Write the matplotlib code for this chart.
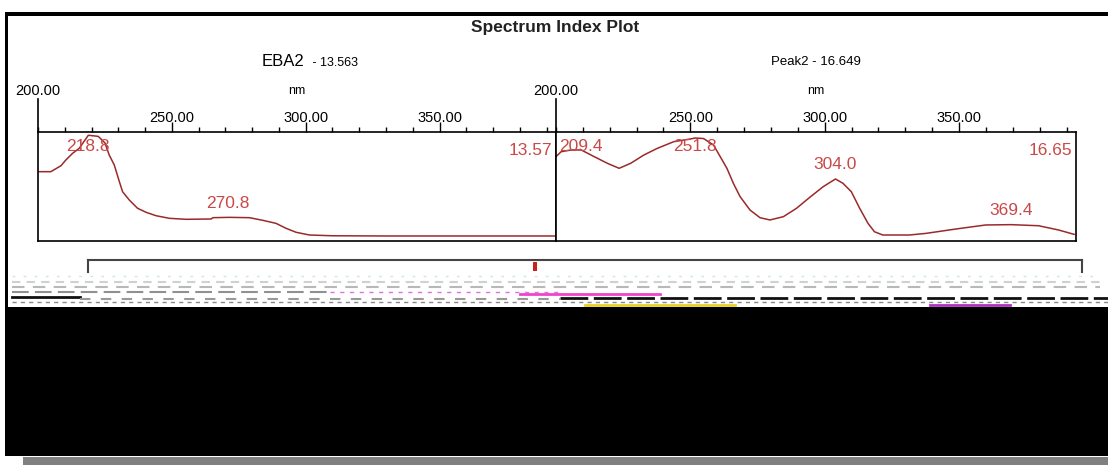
import matplotlib
matplotlib.use("Agg")
from matplotlib import pyplot as plt
from matplotlib.patches import Rectangle
from matplotlib.lines import Line2D
from matplotlib.ticker import MultipleLocator, FixedLocator

plt.rcParams['font.family'] = ['Liberation Sans', 'DejaVu Sans']

# spectrum 1 (EBA2, rt 13.563)
wl1 = [200, 204.8, 208.6, 210.4, 212.9, 215.4, 218.8, 222.5, 225.0, 226.6, 228.5,
       230.4, 231.6, 234.1, 237.2, 240.4, 244.1, 249.1, 255.3, 264.7, 265.3, 271.5,
       279.0, 283.9, 288.9, 292.7, 296.4, 301.4, 310, 330, 360, 393.5]
ab1 = [0.636, 0.636, 0.691, 0.743, 0.804, 0.850, 0.970, 0.960, 0.900, 0.789, 0.697,
       0.544, 0.452, 0.376, 0.300, 0.263, 0.232, 0.208, 0.199, 0.202, 0.214, 0.217,
       0.214, 0.190, 0.162, 0.116, 0.080, 0.055, 0.048, 0.046, 0.046, 0.046]
peaks1 = [218.8, 270.8]
rt1 = "13.57"
name1 = "EBA2"
sub1 = " - 13.563"

# spectrum 2 (Peak2, rt 16.649)
wl2 = [200, 201.9, 205.6, 209.4, 214.2, 219.1, 223.5, 227.8, 232.7, 237.7, 243.8,
       250.0, 251.8, 254.9, 258.6, 261.1, 263.6, 266.0, 268.5, 272.2, 275.9, 279.6,
       284.6, 289.5, 294.4, 299.4, 304.0, 306.8, 309.9, 313.0, 316.1, 318.5, 321.6,
       331.5, 337.7, 348.8, 359.9, 369.4, 379.6, 387.0, 392.8]
ab2 = [0.774, 0.819, 0.835, 0.835, 0.774, 0.713, 0.667, 0.713, 0.789, 0.850, 0.911,
       0.936, 0.945, 0.940, 0.881, 0.774, 0.667, 0.529, 0.407, 0.284, 0.214, 0.193,
       0.223, 0.300, 0.400, 0.498, 0.569, 0.529, 0.452, 0.300, 0.162, 0.085, 0.055,
       0.055, 0.070, 0.110, 0.147, 0.150, 0.140, 0.101, 0.061]
peaks2 = [209.4, 251.8, 304.0, 369.4]
rt2 = "16.65"
name2 = "Peak2 - 16.649"

W, H = 1108, 465
CURVE = "#9a2a2a"
LABEL = "#c94848"


def fx(px):
    return px / W


def fy(py):
    return 1 - py / H


def prect(fig, x0, y0, x1, y1, color):
    fig.patches.append(Rectangle((fx(x0), fy(y1)), fx(x1) - fx(x0), fy(y0) - fy(y1),
                                 transform=fig.transFigure, color=color, lw=0))


def pline(fig, x0, x1, y, color, lw=1.0, ls='-'):
    fig.lines.append(Line2D([fx(x0), fx(x1)], [fy(y), fy(y)], transform=fig.transFigure,
                            color=color, lw=lw, ls=ls))


def draw_panel(fig, left, right, wl, ab, peaks, rt):
    top, bottom = 132, 241
    hgt = bottom - top
    ax = fig.add_axes([fx(left), fy(bottom), fx(right) - fx(left), hgt / H])
    ax.plot(wl, ab, color=CURVE, lw=1.1)
    ax.set_xlim(200, 393.5)
    ax.set_ylim(0, 1)
    ax.set_yticks([])
    for s in ax.spines.values():
        s.set_linewidth(1.2)
    ax.xaxis.set_ticks_position('top')
    ax.xaxis.set_major_locator(FixedLocator([250, 300, 350]))
    ax.xaxis.set_minor_locator(MultipleLocator(10))
    ax.xaxis.set_major_formatter(lambda v, p: f"{v:.2f}")
    ax.tick_params(axis='x', which='major', direction='out', length=7, width=1,
                   pad=-2, labelsize=10.5)
    ax.tick_params(axis='x', which='minor', direction='out', length=3.6, width=1)
    # long tick at the start of the scale
    ax.plot([0, 0], [1, 1 + 33 / hgt], transform=ax.transAxes, color='black',
            lw=1.2, clip_on=False)
    ax.text(0, 1 + 41 / hgt, "200.00", transform=ax.transAxes, ha='center',
            va='center', fontsize=10.5)
    ax.text(0.5, 1 + 41 / hgt, "nm", transform=ax.transAxes, ha='center',
            va='center', fontsize=9)
    for p in peaks:
        i = min(range(len(wl)), key=lambda k: abs(wl[k] - p))
        ax.text(p, min(ab[i] + 0.13, 0.87), f"{p:.1f}", ha='center', va='center',
                fontsize=12.5, color=LABEL)
    ax.text(0.993, 0.83, rt, transform=ax.transAxes, ha='right', va='center',
            fontsize=12.5, color=LABEL)
    return ax


fig = plt.figure(figsize=(W / 100, H / 100), dpi=100)
fig.patch.set_facecolor('white')

# outer frame
prect(fig, 5, 12, W, 16, 'black')
prect(fig, 5, 12, 8, 456, 'black')

fig.text(fx(555), fy(27.5), "Spectrum Index Plot", ha='center', va='center',
         fontsize=12.5, fontweight='bold', color='#222222')
fig.text(fx(262), fy(66), name1, ha='left', va='baseline', fontsize=12)
fig.text(fx(309), fy(66), sub1, ha='left', va='baseline', fontsize=9)
fig.text(fx(816), fy(65), name2, ha='center', va='baseline', fontsize=9.5)

draw_panel(fig, 38, 556, wl1, ab1, peaks1, rt1)
draw_panel(fig, 556, 1076, wl2, ab2, peaks2, rt2)

# range bracket with marker
pline(fig, 88, 1082, 260, '#444444', lw=1.5)
fig.lines.append(Line2D([fx(88), fx(88)], [fy(260), fy(272)], transform=fig.transFigure,
                        color='#444444', lw=1.5))
fig.lines.append(Line2D([fx(1082), fx(1082)], [fy(260), fy(272)], transform=fig.transFigure,
                        color='#444444', lw=1.5))
fig.patches.append(Rectangle((fx(533), fy(271)), fx(4), 9 / H, transform=fig.transFigure,
                             color='#cc2020', lw=0))

# garbled strip below the bracket
pline(fig, 12, 1100, 276, '#c8e8f0', lw=1, ls=(0, (2, 6)))
pline(fig, 12, 1100, 282, '#d0d0d0', lw=1.5, ls=(0, (4, 3)))
pline(fig, 12, 1100, 287, '#b8b8b8', lw=1.5, ls=(0, (6, 4)))
pline(fig, 12, 330, 292, '#909090', lw=1.5, ls=(0, (8, 3)))
pline(fig, 330, 560, 292, '#e070e0', lw=1.0, ls=(0, (3, 4)))
pline(fig, 520, 660, 294, '#ee44cc', lw=2.0)
pline(fig, 12, 80, 297, '#111111', lw=2.0)
pline(fig, 560, 1108, 298, '#111111', lw=2.0, ls=(0, (10, 2)))
pline(fig, 80, 560, 299, '#999999', lw=1.5, ls=(0, (5, 5)))
pline(fig, 12, 1108, 302, '#888888', lw=1.0, ls=(0, (3, 3)))
pline(fig, 585, 735, 305, '#e8d020', lw=2.0)
pline(fig, 930, 1010, 305, '#b030c0', lw=2.0)

# black block and gray bar at the bottom
prect(fig, 5, 307, W, 456, 'black')
prect(fig, 23, 456.5, W, H, '#808080')

fig.savefig("out.png", dpi=100)
